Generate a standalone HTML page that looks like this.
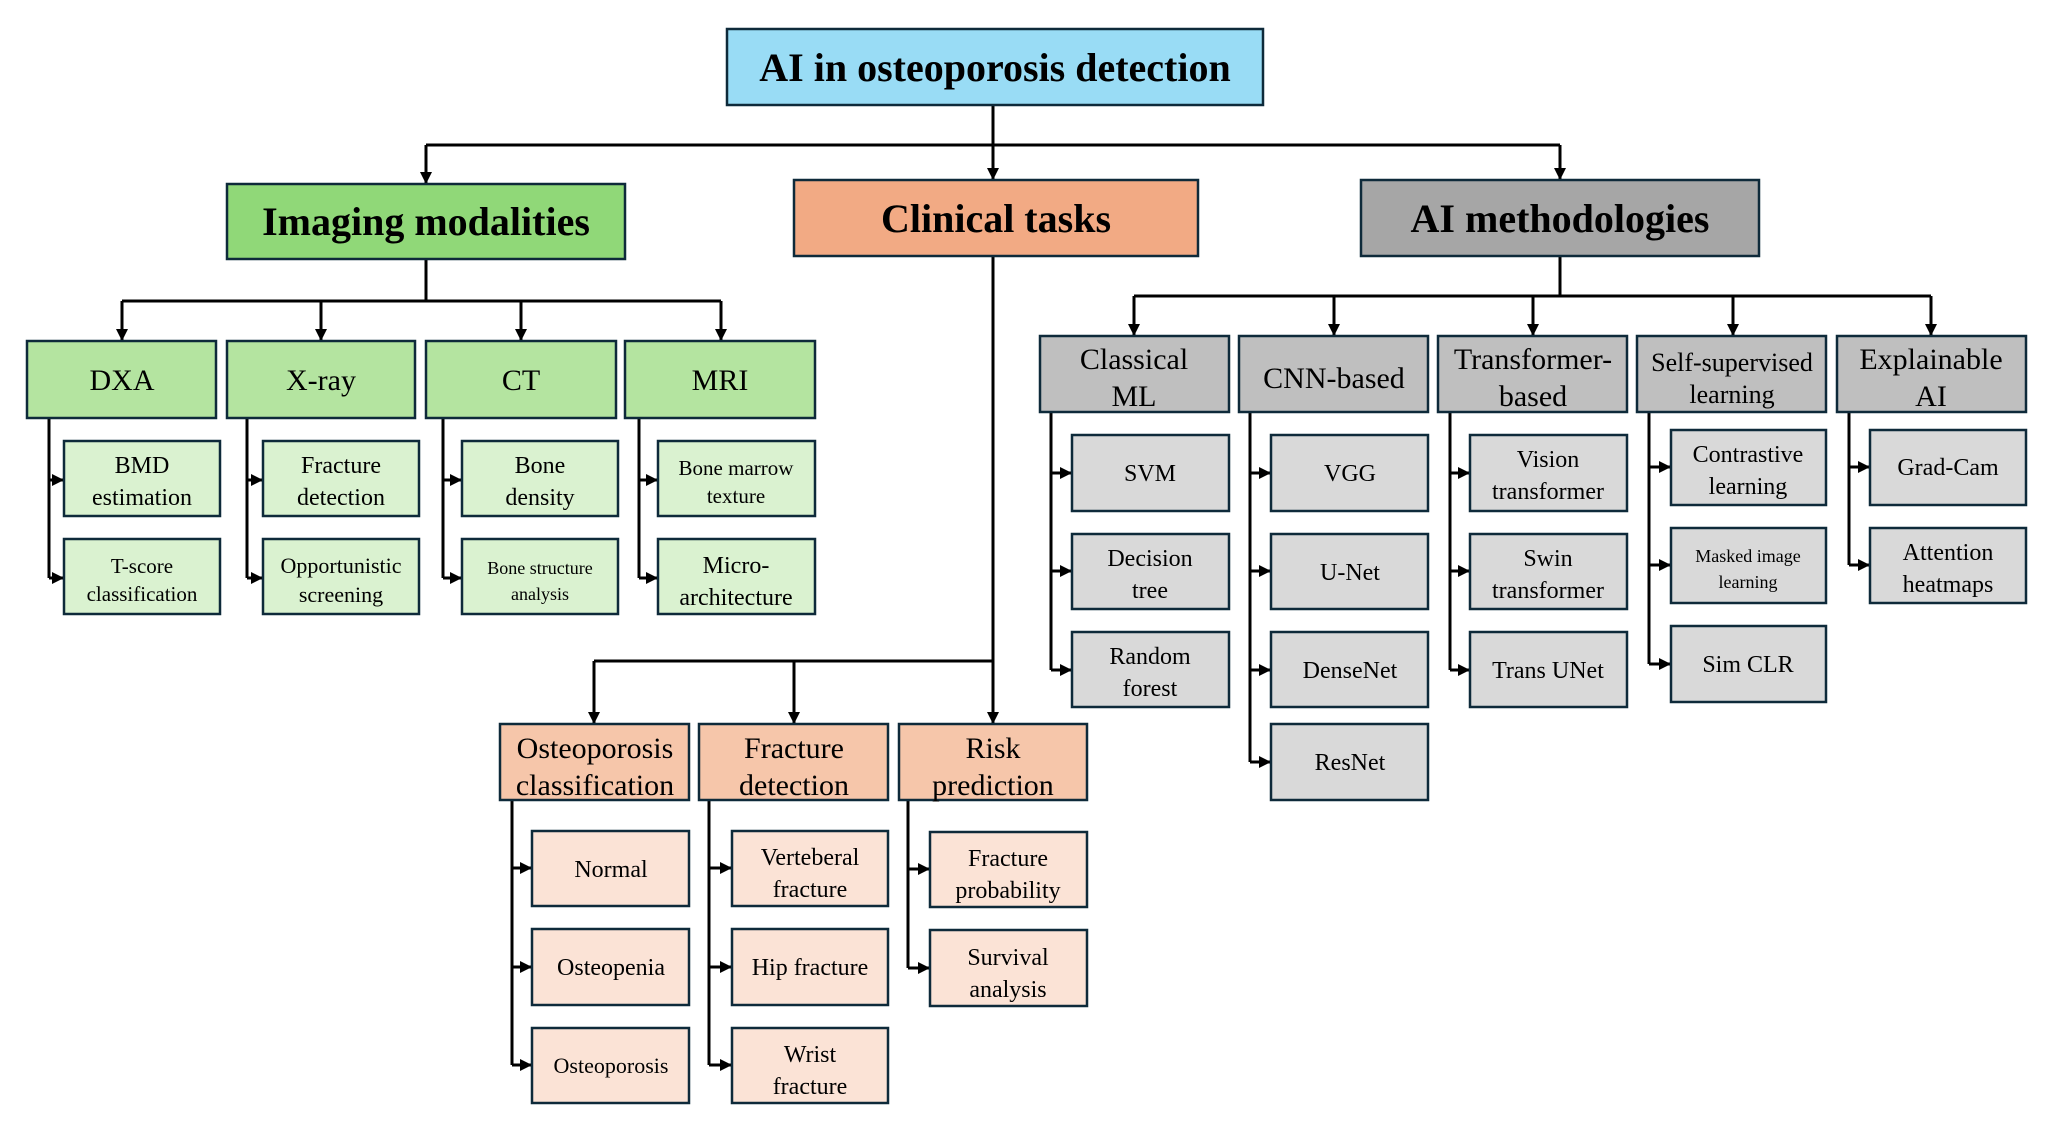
<!DOCTYPE html>
<html><head><meta charset="utf-8"><style>
html,body{margin:0;padding:0;background:#fff;}
svg{display:block;}
text{font-family:"Liberation Serif",serif;fill:#000;text-anchor:middle;}
rect{stroke:#0e2a3a;stroke-width:2.5;}
.l{stroke:#000;stroke-width:3;fill:none;}
</style></head><body>
<svg width="2053" height="1128" viewBox="0 0 2053 1128" xmlns="http://www.w3.org/2000/svg">
<defs>
<marker id="a" markerUnits="userSpaceOnUse" markerWidth="14" markerHeight="14" refX="12" refY="7" orient="auto"><path d="M0,1 L12,7 L0,13 Z" fill="#000"/></marker>
</defs>
<!-- connectors -->
<g class="l">
<path d="M993,105 V145"/><path d="M426,145 H1560"/>
<path d="M426,145 V184" marker-end="url(#a)"/><path d="M993,145 V180" marker-end="url(#a)"/><path d="M1560,145 V180" marker-end="url(#a)"/>
<path d="M426,259 V301 M122,301 H721"/>
<path d="M122,301 V341" marker-end="url(#a)"/><path d="M321,301 V341" marker-end="url(#a)"/><path d="M521,301 V341" marker-end="url(#a)"/><path d="M721,301 V341" marker-end="url(#a)"/>
<path d="M49,418 V578 M247,418 V578 M443,418 V578 M639,418 V578"/>
<path d="M49,480 H64" marker-end="url(#a)"/><path d="M49,578 H64" marker-end="url(#a)"/>
<path d="M247,480 H263" marker-end="url(#a)"/><path d="M247,578 H263" marker-end="url(#a)"/>
<path d="M443,480 H462" marker-end="url(#a)"/><path d="M443,578 H462" marker-end="url(#a)"/>
<path d="M639,480 H658" marker-end="url(#a)"/><path d="M639,578 H658" marker-end="url(#a)"/>
<path d="M1560,256 V296 M1134,296 H1931"/>
<path d="M1134,296 V336" marker-end="url(#a)"/><path d="M1334,296 V336" marker-end="url(#a)"/><path d="M1533,296 V336" marker-end="url(#a)"/><path d="M1733,296 V336" marker-end="url(#a)"/><path d="M1931,296 V336" marker-end="url(#a)"/>
<path d="M1051,412 V670 M1250,412 V762 M1450,412 V670 M1649,412 V664 M1849,412 V565"/>
<path d="M1051,473 H1072" marker-end="url(#a)"/><path d="M1051,571 H1072" marker-end="url(#a)"/><path d="M1051,670 H1072" marker-end="url(#a)"/>
<path d="M1250,473 H1271" marker-end="url(#a)"/><path d="M1250,571 H1271" marker-end="url(#a)"/><path d="M1250,670 H1271" marker-end="url(#a)"/><path d="M1250,762 H1271" marker-end="url(#a)"/>
<path d="M1450,473 H1470" marker-end="url(#a)"/><path d="M1450,571 H1470" marker-end="url(#a)"/><path d="M1450,670 H1470" marker-end="url(#a)"/>
<path d="M1649,467 H1671" marker-end="url(#a)"/><path d="M1649,565 H1671" marker-end="url(#a)"/><path d="M1649,664 H1671" marker-end="url(#a)"/>
<path d="M1849,467 H1870" marker-end="url(#a)"/><path d="M1849,565 H1870" marker-end="url(#a)"/>
<path d="M993,256 V661 M594,661 H993"/>
<path d="M594,661 V724" marker-end="url(#a)"/><path d="M794,661 V724" marker-end="url(#a)"/><path d="M993,661 V724" marker-end="url(#a)"/>
<path d="M512,800 V1065 M709,800 V1065 M908,800 V968"/>
<path d="M512,868 H532" marker-end="url(#a)"/><path d="M512,967 H532" marker-end="url(#a)"/><path d="M512,1065 H532" marker-end="url(#a)"/>
<path d="M709,868 H732" marker-end="url(#a)"/><path d="M709,967 H732" marker-end="url(#a)"/><path d="M709,1065 H732" marker-end="url(#a)"/>
<path d="M908,869 H930" marker-end="url(#a)"/><path d="M908,968 H930" marker-end="url(#a)"/>
</g>
<!-- root -->
<rect x="727" y="29" width="536" height="76" fill="#99dcf5"/>
<text x="995" y="81" font-size="40" font-weight="bold">AI in osteoporosis detection</text>
<!-- level1 -->
<rect x="227" y="184" width="398" height="75" fill="#90d878"/>
<text x="426" y="235" font-size="40" font-weight="bold">Imaging modalities</text>
<rect x="794" y="180" width="404" height="76" fill="#f2aa84"/>
<text x="996" y="232" font-size="40" font-weight="bold">Clinical tasks</text>
<rect x="1361" y="180" width="398" height="76" fill="#a6a6a6"/>
<text x="1560" y="232" font-size="40" font-weight="bold">AI methodologies</text>
<!-- imaging level2 -->
<g font-size="30">
<rect x="27" y="341" width="189" height="77" fill="#b4e4a0"/><text x="122" y="390" font-size="30">DXA</text>
<rect x="227" y="341" width="188" height="77" fill="#b4e4a0"/><text x="321" y="390" font-size="30">X-ray</text>
<rect x="426" y="341" width="190" height="77" fill="#b4e4a0"/><text x="521" y="390" font-size="30">CT</text>
<rect x="625" y="341" width="190" height="77" fill="#b4e4a0"/><text x="720" y="390" font-size="30">MRI</text>
</g>
<!-- imaging leaves -->
<g fill="#daf2d0">
<rect x="64" y="441" width="156" height="75"/><rect x="64" y="539" width="156" height="75"/>
<rect x="263" y="441" width="156" height="75"/><rect x="263" y="539" width="156" height="75"/>
<rect x="462" y="441" width="156" height="75"/><rect x="462" y="539" width="156" height="75"/>
<rect x="658" y="441" width="157" height="75"/><rect x="658" y="539" width="157" height="75"/>
</g>
<g font-size="24">
<text x="142" y="473">BMD</text><text x="142" y="505">estimation</text>
<text x="142" y="573" font-size="21">T-score</text><text x="142" y="601" font-size="21">classification</text>
<text x="341" y="473">Fracture</text><text x="341" y="505">detection</text>
<text x="341" y="573" font-size="22">Opportunistic</text><text x="341" y="602" font-size="22">screening</text>
<text x="540" y="473">Bone</text><text x="540" y="505">density</text>
<text x="540" y="574" font-size="18">Bone structure</text><text x="540" y="600" font-size="18">analysis</text>
<text x="736" y="475" font-size="21">Bone marrow</text><text x="736" y="503" font-size="21">texture</text>
<text x="736" y="573">Micro-</text><text x="736" y="605">architecture</text>
</g>
<!-- AI level2 -->
<g fill="#bfbfbf">
<rect x="1040" y="336" width="189" height="76"/><rect x="1239" y="336" width="189" height="76"/>
<rect x="1438" y="336" width="189" height="76"/><rect x="1637" y="336" width="189" height="76"/>
<rect x="1837" y="336" width="189" height="76"/>
</g>
<g font-size="30">
<text x="1134" y="369">Classical</text><text x="1134" y="406">ML</text>
<text x="1334" y="388">CNN-based</text>
<text x="1533" y="369">Transformer-</text><text x="1533" y="406">based</text>
<text x="1732" y="371" font-size="26">Self-supervised</text><text x="1732" y="403" font-size="26">learning</text>
<text x="1931" y="369">Explainable</text><text x="1931" y="406">AI</text>
</g>
<!-- AI leaves -->
<g fill="#d9d9d9">
<rect x="1072" y="435" width="157" height="76"/><rect x="1072" y="534" width="157" height="75"/><rect x="1072" y="632" width="157" height="75"/>
<rect x="1271" y="435" width="157" height="76"/><rect x="1271" y="534" width="157" height="75"/><rect x="1271" y="632" width="157" height="75"/><rect x="1271" y="724" width="157" height="76"/>
<rect x="1470" y="435" width="157" height="76"/><rect x="1470" y="534" width="157" height="75"/><rect x="1470" y="632" width="157" height="75"/>
<rect x="1671" y="430" width="155" height="75"/><rect x="1671" y="528" width="155" height="75"/><rect x="1671" y="626" width="155" height="76"/>
<rect x="1870" y="430" width="156" height="75"/><rect x="1870" y="528" width="156" height="75"/>
</g>
<g font-size="24">
<text x="1150" y="481">SVM</text>
<text x="1150" y="566">Decision</text><text x="1150" y="598">tree</text>
<text x="1150" y="664">Random</text><text x="1150" y="696">forest</text>
<text x="1350" y="481">VGG</text>
<text x="1350" y="580">U-Net</text>
<text x="1350" y="678">DenseNet</text>
<text x="1350" y="770">ResNet</text>
<text x="1548" y="467">Vision</text><text x="1548" y="499">transformer</text>
<text x="1548" y="566">Swin</text><text x="1548" y="598">transformer</text>
<text x="1548" y="678">Trans UNet</text>
<text x="1748" y="462">Contrastive</text><text x="1748" y="494">learning</text>
<text x="1748" y="562" font-size="18">Masked image</text><text x="1748" y="588" font-size="18">learning</text>
<text x="1748" y="672">Sim CLR</text>
<text x="1948" y="475">Grad-Cam</text>
<text x="1948" y="560">Attention</text><text x="1948" y="592">heatmaps</text>
</g>
<!-- clinical level2 -->
<g fill="#f6c6aa">
<rect x="500" y="724" width="189" height="76"/><rect x="699" y="724" width="189" height="76"/><rect x="899" y="724" width="188" height="76"/>
</g>
<g font-size="30">
<text x="595" y="758">Osteoporosis</text><text x="595" y="795">classification</text>
<text x="794" y="758">Fracture</text><text x="794" y="795">detection</text>
<text x="993" y="758">Risk</text><text x="993" y="795">prediction</text>
</g>
<g fill="#fbe3d6">
<rect x="532" y="831" width="157" height="75"/><rect x="532" y="929" width="157" height="76"/><rect x="532" y="1028" width="157" height="75"/>
<rect x="732" y="831" width="156" height="75"/><rect x="732" y="929" width="156" height="76"/><rect x="732" y="1028" width="156" height="75"/>
<rect x="930" y="832" width="157" height="75"/><rect x="930" y="930" width="157" height="76"/>
</g>
<g font-size="24">
<text x="611" y="877">Normal</text>
<text x="611" y="975">Osteopenia</text>
<text x="611" y="1073" font-size="22">Osteoporosis</text>
<text x="810" y="865">Verteberal</text><text x="810" y="897">fracture</text>
<text x="810" y="975">Hip fracture</text>
<text x="810" y="1062">Wrist</text><text x="810" y="1094">fracture</text>
<text x="1008" y="866">Fracture</text><text x="1008" y="898">probability</text>
<text x="1008" y="965">Survival</text><text x="1008" y="997">analysis</text>
</g>
</svg>
</body></html>
